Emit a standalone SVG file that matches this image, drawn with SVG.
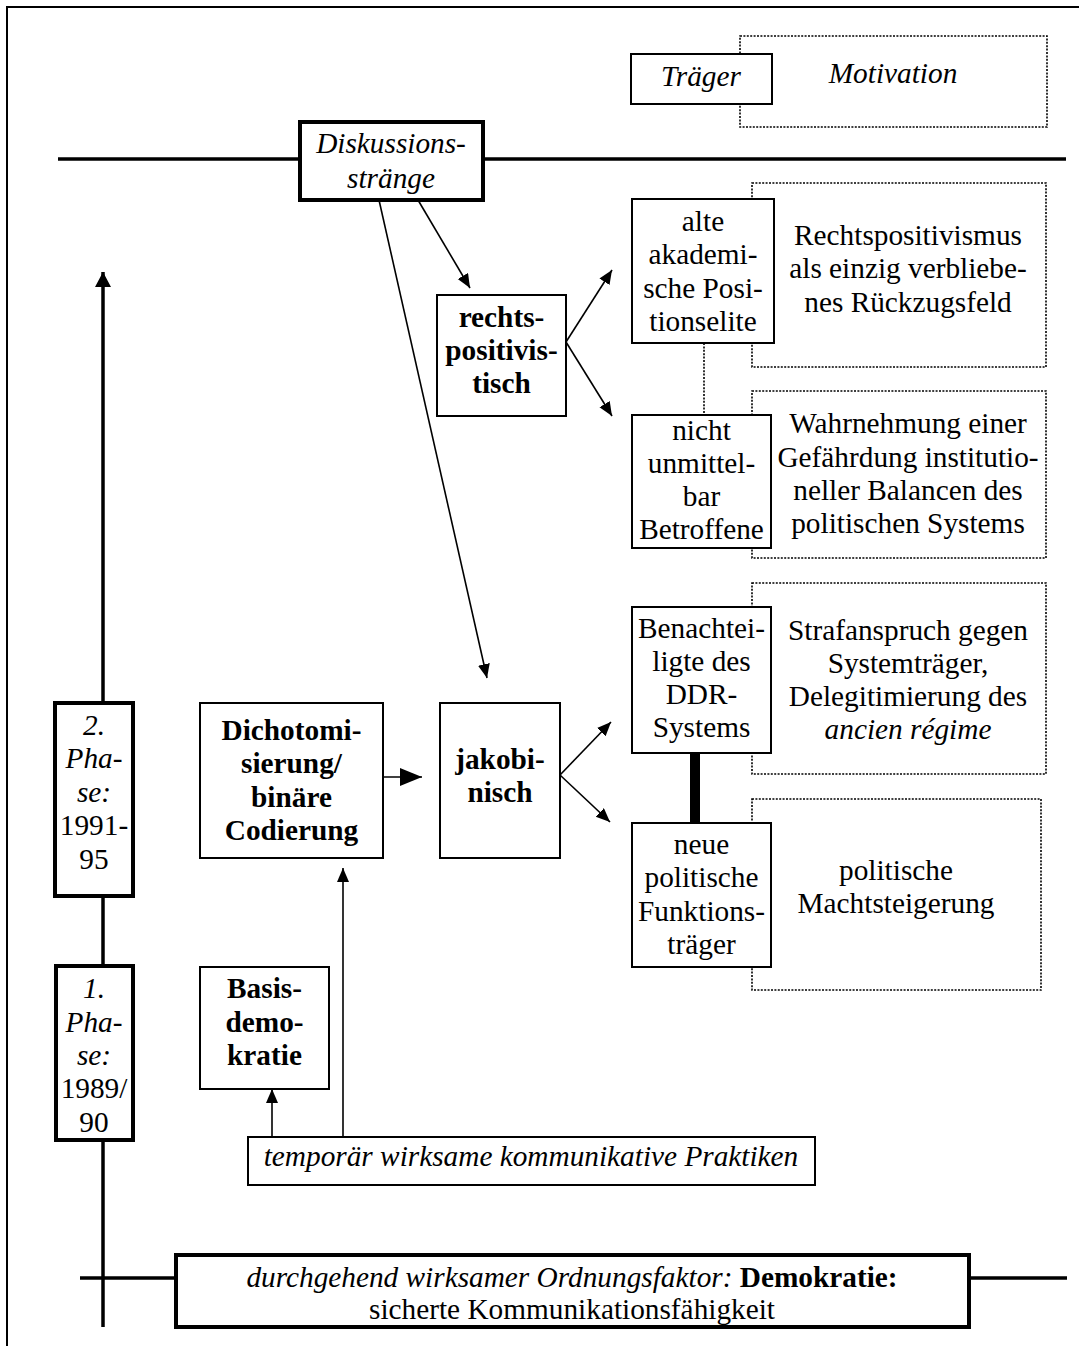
<svg xmlns="http://www.w3.org/2000/svg" width="1079" height="1346" viewBox="0 0 1079 1346">
<style>
text{font-family:"Liberation Serif","Times New Roman",serif;font-size:29.3px;fill:#000;text-anchor:middle}
.i{font-style:italic}
.b{font-weight:bold}
.box{fill:#fff;stroke:#000;stroke-width:2}
.tbox{fill:#fff;stroke:#000;stroke-width:4}
.dot{fill:#fff;stroke:#000;stroke-width:1.6;stroke-dasharray:2 1.4}
.ln{stroke:#000;stroke-width:1.6;fill:none}
.thick{stroke:#000;stroke-width:3.5;fill:none}
</style>
<defs>
<marker id="ah" markerUnits="userSpaceOnUse" markerWidth="16" markerHeight="14" refX="14" refY="6" orient="auto"><path d="M0,0 L14,6 L0,12 z" fill="#000"/></marker>
<marker id="ahb" markerUnits="userSpaceOnUse" markerWidth="24" markerHeight="20" refX="22" refY="9" orient="auto"><path d="M0,0 L22,9 L0,18 z" fill="#000"/></marker>
<marker id="aht" markerUnits="userSpaceOnUse" markerWidth="18" markerHeight="18" refX="15" refY="8" orient="auto"><path d="M0,0 L15,8 L0,16 z" fill="#000"/></marker>
</defs>
<rect width="1079" height="1346" fill="#fff"/>
<path d="M7,1346 L7,7 L1079,7" fill="none" stroke="#000" stroke-width="2"/>

<g id="connectors">
<line class="thick" x1="58" y1="159" x2="1066" y2="159"/>
<line class="thick" x1="80" y1="1278" x2="1067" y2="1278"/>
<line class="thick" x1="103" y1="1327" x2="103" y2="272" marker-end="url(#aht)"/>
<line class="ln" x1="418" y1="200" x2="470" y2="288" marker-end="url(#ah)"/>
<line class="ln" x1="379" y1="200" x2="487" y2="678" marker-end="url(#ah)"/>
<line class="ln" x1="566" y1="342" x2="612" y2="270" marker-end="url(#ah)"/>
<line class="ln" x1="566" y1="342" x2="612" y2="416" marker-end="url(#ah)"/>
<line class="ln" x1="560" y1="775" x2="611" y2="722" marker-end="url(#ah)"/>
<line class="ln" x1="560" y1="775" x2="610" y2="822" marker-end="url(#ah)"/>
<line class="ln" x1="383" y1="777" x2="422" y2="777" marker-end="url(#ahb)"/>
<line class="ln" x1="272" y1="1137" x2="272" y2="1089" marker-end="url(#ah)"/>
<line class="ln" x1="343" y1="1137" x2="343" y2="868" marker-end="url(#ah)"/>
<line x1="695" y1="753" x2="695" y2="823" stroke="#000" stroke-width="10"/>
<line x1="704" y1="343" x2="704" y2="415" stroke="#000" stroke-width="1.6" stroke-dasharray="2 1.4"/>
</g>

<g id="motivation-legend"><rect class="dot" x="740" y="36" width="307" height="91"/><text class="i" x="893" y="83">Motivation</text></g>
<g id="motiv-rechtspositivismus"><rect class="dot" x="752" y="183" width="294" height="184"/>
<text x="908" y="245">Rechtspositivismus</text><text x="908" y="278">als einzig verbliebe-</text><text x="908" y="312">nes Rückzugsfeld</text></g>
<g id="motiv-wahrnehmung"><rect class="dot" x="752" y="391" width="294" height="167"/>
<text x="908" y="433">Wahrnehmung einer</text><text x="908" y="467">Gefährdung institutio-</text><text x="908" y="500">neller Balancen des</text><text x="908" y="533">politischen Systems</text></g>
<g id="motiv-strafanspruch"><rect class="dot" x="752" y="583" width="294" height="191"/>
<text x="908" y="640">Strafanspruch gegen</text><text x="908" y="673">Systemträger,</text><text x="908" y="706">Delegitimierung des</text><text class="i" x="908" y="739">ancien régime</text></g>
<g id="motiv-macht"><rect class="dot" x="752" y="799" width="289" height="191"/>
<text x="896" y="880">politische</text><text x="896" y="913">Machtsteigerung</text></g>

<g id="traeger-legend"><rect class="box" x="631" y="54" width="141" height="50"/><text class="i" x="701" y="86">Träger</text></g>
<g id="diskussionsstraenge"><rect class="tbox" x="300" y="122" width="183" height="78"/>
<text class="i" x="391" y="153">Diskussions-</text><text class="i" x="391" y="188">stränge</text></g>
<g id="rechtspositivistisch"><rect class="box" x="437" y="295" width="129" height="121"/>
<text class="b" x="501.5" y="327">rechts-</text><text class="b" x="501.5" y="360">positivis-</text><text class="b" x="501.5" y="393">tisch</text></g>
<g id="alte-elite"><rect class="box" x="632" y="199" width="142" height="144"/>
<text x="703" y="231">alte</text><text x="703" y="264">akademi-</text><text x="703" y="298">sche Posi-</text><text x="703" y="331">tionselite</text></g>
<g id="nicht-betroffene"><rect class="box" x="632" y="415" width="139" height="133"/>
<text x="701.5" y="440">nicht</text><text x="701.5" y="473">unmittel-</text><text x="701.5" y="506">bar</text><text x="701.5" y="539">Betroffene</text></g>
<g id="benachteiligte"><rect class="box" x="632" y="607" width="139" height="146"/>
<text x="701.5" y="638">Benachtei-</text><text x="701.5" y="671">ligte des</text><text x="701.5" y="704">DDR-</text><text x="701.5" y="737">Systems</text></g>
<g id="neue-funktionstraeger"><rect class="box" x="632" y="823" width="139" height="144"/>
<text x="701.5" y="854">neue</text><text x="701.5" y="887">politische</text><text x="701.5" y="921">Funktions-</text><text x="701.5" y="954">träger</text></g>
<g id="jakobinisch"><rect class="box" x="440" y="703" width="120" height="155"/>
<text class="b" x="500" y="769">jakobi-</text><text class="b" x="500" y="802">nisch</text></g>
<g id="dichotomisierung"><rect class="box" x="200" y="703" width="183" height="155"/>
<text class="b" x="291.5" y="740">Dichotomi-</text><text class="b" x="291.5" y="773">sierung/</text><text class="b" x="291.5" y="807">binäre</text><text class="b" x="291.5" y="840">Codierung</text></g>
<g id="basisdemokratie"><rect class="box" x="200" y="967" width="129" height="122"/>
<text class="b" x="264.5" y="998">Basis-</text><text class="b" x="264.5" y="1032">demo-</text><text class="b" x="264.5" y="1065">kratie</text></g>
<g id="phase2"><rect class="tbox" x="55" y="703" width="78" height="193"/>
<text class="i" x="94" y="735">2.</text><text class="i" x="94" y="768">Pha-</text><text class="i" x="94" y="802">se:</text><text x="94" y="835">1991-</text><text x="94" y="869">95</text></g>
<g id="phase1"><rect class="tbox" x="56" y="966" width="77" height="174"/>
<text class="i" x="94" y="998">1.</text><text class="i" x="94" y="1032">Pha-</text><text class="i" x="94" y="1065">se:</text><text x="94" y="1098">1989/</text><text x="94" y="1132">90</text></g>
<g id="temporaer-praktiken"><rect class="box" x="248" y="1137" width="567" height="48"/>
<text class="i" x="531" y="1166">temporär wirksame kommunikative Praktiken</text></g>
<g id="ordnungsfaktor"><rect class="tbox" x="176" y="1255" width="793" height="72"/>
<text x="572" y="1287"><tspan class="i">durchgehend wirksamer Ordnungsfaktor:</tspan> <tspan class="b">Demokratie:</tspan></text>
<text x="572" y="1319">sicherte Kommunikationsfähigkeit</text></g>
</svg>
